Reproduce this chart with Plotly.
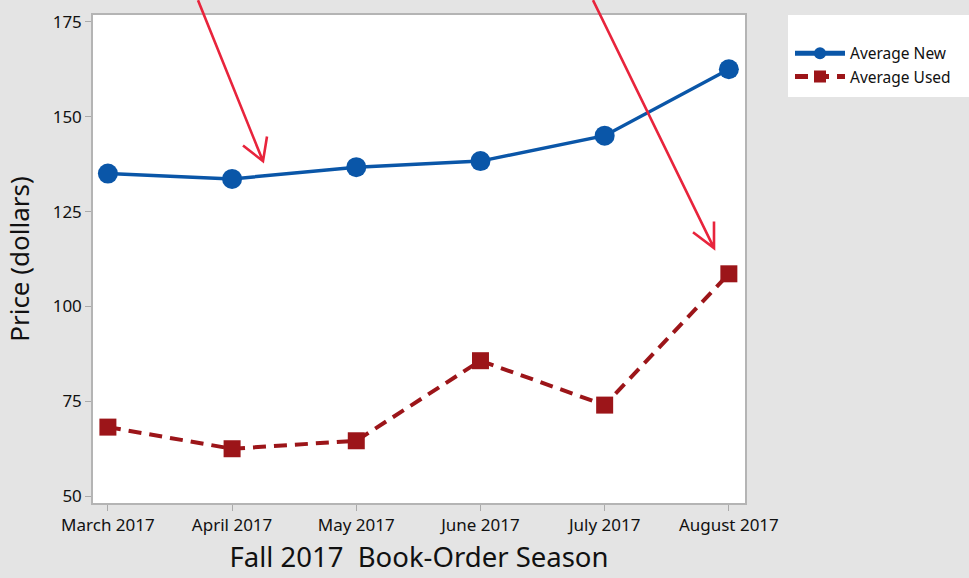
import plotly.graph_objects as go

months = ["March 2017", "April 2017", "May 2017", "June 2017", "July 2017", "August 2017"]
avg_new = [135.0, 133.6, 136.7, 138.3, 145.0, 162.5]
avg_used = [68.2, 62.5, 64.6, 85.7, 74.0, 108.6]
y_ticks = [50, 75, 100, 125, 150, 175]

FONT = "Noto Sans"
BLUE = "#0a56a8"
RED = "#9c1519"
ARROW = "#e8243c"

W, H = 969, 578
L, R, T, B = 93, 745, 10, 504

def px(X):
    return (X - L) / (R - L)

def py(Y):
    return (B - Y) / (B - T)

fig = go.Figure()
fig.add_trace(go.Scatter(
    x=list(range(len(months))), y=avg_new, name="Average New",
    mode="lines+markers",
    line=dict(color=BLUE, width=3.5),
    marker=dict(symbol="circle", size=20, color=BLUE),
))
fig.add_trace(go.Scatter(
    x=list(range(len(months))), y=avg_used, name="Average Used",
    mode="lines+markers",
    line=dict(color=RED, width=4, dash="13px,8px"),
    marker=dict(symbol="square", size=17, color=RED),
))

shapes = []
# legend background box
shapes.append(dict(type="rect", xref="paper", yref="paper",
                   x0=px(788), x1=px(975), y0=py(93), y1=py(10),
                   fillcolor="white", line=dict(width=0), layer="below"))

def arrow(tail, tip, arm1, arm2):
    p = lambda P: f"{px(P[0]):.5f},{py(P[1]):.5f}"
    path = (f"M{p(tail)} L{p(tip)} M{p(arm1)} L{p(tip)} L{p(arm2)}")
    return dict(type="path", xref="paper", yref="paper", path=path,
                line=dict(color=ARROW, width=2.6), layer="above")

shapes.append(arrow((198, -5), (263, 158), (243, 142), (267, 133)))
shapes.append(arrow((593, -5), (714, 246), (693, 230), (714, 219)))

fig.update_layout(
    width=W, height=H,
    margin=dict(l=L, r=W - R, t=T, b=H - B, pad=0),
    paper_bgcolor="#e4e4e4",
    plot_bgcolor="white",
    font=dict(family=FONT, color="#111111"),
    showlegend=True,
    legend=dict(x=px(790), y=py(32), xanchor="left", yanchor="top",
                bgcolor="rgba(0,0,0,0)", font=dict(size=15.5, family=FONT, color="#111"),
                tracegroupgap=0, itemwidth=50, itemsizing="constant"),
    shapes=shapes,
)
fig.update_xaxes(
    range=[-0.12, 5.13],
    tickmode="array", tickvals=list(range(len(months))), ticktext=months,
    tickfont=dict(size=17, family=FONT, color="#111"),
    ticks="outside", ticklen=6, tickcolor="#aaaaaa",
    showline=True, linecolor="#b4b4b4", linewidth=1.5, mirror=True,
    showgrid=False, zeroline=False,
    title=dict(text="Fall 2017\u00a0\u00a0Book-Order Season",
               font=dict(size=27.5, family=FONT, color="#111"), standoff=13),
)
fig.update_yaxes(
    range=[48.2, 176.8],
    tickmode="array", tickvals=y_ticks, ticktext=[str(v) for v in y_ticks],
    tickfont=dict(size=17, family=FONT, color="#111"),
    ticks="outside", ticklen=6, tickcolor="#aaaaaa",
    showline=True, linecolor="#b4b4b4", linewidth=1.5, mirror=True,
    showgrid=False, zeroline=False,
    title=dict(text="Price (dollars)", font=dict(size=26, family=FONT, color="#111"), standoff=16),
)

fig.write_html("out.html", config={"displayModeBar": False},
               post_script="document.body.style.margin='0';")
